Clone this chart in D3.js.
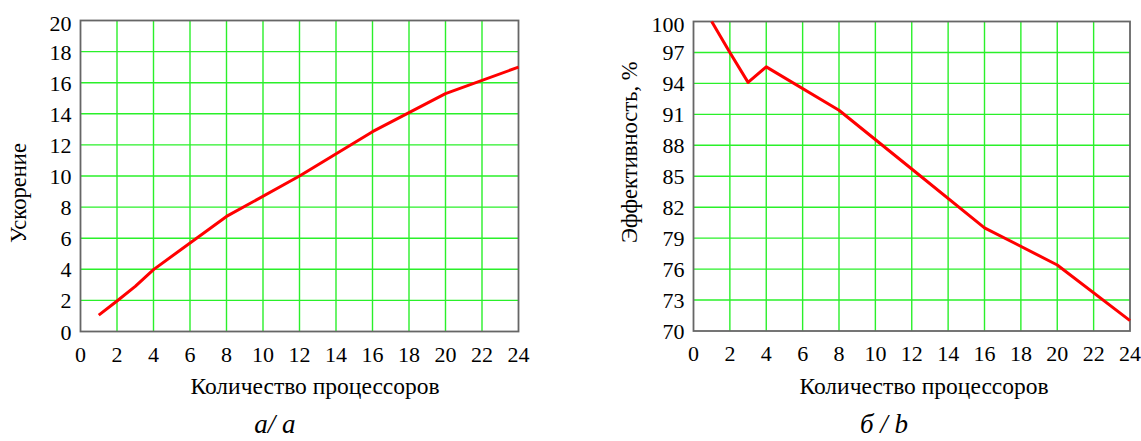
<!DOCTYPE html>
<html>
<head>
<meta charset="utf-8">
<script src="https://cdn.jsdelivr.net/npm/d3@7"></script>
<style>
  html, body { margin: 0; padding: 0; background: #fff; }
  svg { display: block; }
  text { font-family: "Liberation Serif", "Times New Roman", serif; fill: #000; }
</style>
</head>
<body>
<svg id="chart" width="1141" height="441"></svg>
<script>
// Number of processors
const processors = [1, 2, 3, 4, 8, 12, 16, 20, 24];
// Speedup (panel a)
const speedup = [1.05, 1.96, 2.9, 3.98, 7.4, 10.0, 12.85, 15.3, 17.0];
// Efficiency, % (panel b)
const efficiency = [100, 97.0, 94.1, 95.6, 91.4, 85.7, 80.0, 76.4, 71.0];

const xTicks = [0, 2, 4, 6, 8, 10, 12, 14, 16, 18, 20, 22, 24];
const speedupTicks = [0, 2, 4, 6, 8, 10, 12, 14, 16, 18, 20];
const efficiencyTicks = [70, 73, 76, 79, 82, 85, 88, 91, 94, 97, 100];

const xTitle = "Количество процессоров";

const svg = d3.select("#chart");

function panel(opts) {
  const { left, right, top, bottom, yDomain, yTicks, values, yTitle, yTitleX, caption, captionX, xTitleX } = opts;
  const g = svg.append("g");

  const x = d3.scaleLinear().domain([0, 24]).range([left, right]);
  const y = d3.scaleLinear().domain(yDomain).range([bottom, top]);

  // grid
  g.append("g").selectAll("line")
    .data(xTicks.slice(1, -1))
    .join("line")
    .attr("x1", d => x(d)).attr("x2", d => x(d))
    .attr("y1", top).attr("y2", bottom)
    .attr("stroke", "#2af02a").attr("stroke-width", 1.4);
  g.append("g").selectAll("line")
    .data(yTicks.slice(1, -1))
    .join("line")
    .attr("x1", left).attr("x2", right)
    .attr("y1", d => y(d)).attr("y2", d => y(d))
    .attr("stroke", "#2af02a").attr("stroke-width", 1.4);

  // frame
  g.append("rect")
    .attr("x", left).attr("y", top)
    .attr("width", right - left).attr("height", bottom - top)
    .attr("fill", "none").attr("stroke", "#666").attr("stroke-width", 1.8);

  // data line
  const line = d3.line().x(d => x(d[0])).y(d => y(d[1]));
  g.append("path")
    .datum(processors.map((p, i) => [p, values[i]]))
    .attr("d", line)
    .attr("fill", "none")
    .attr("stroke", "#ff0000")
    .attr("stroke-width", 3)
    .attr("stroke-linejoin", "round");

  // y tick labels
  g.append("g").selectAll("text")
    .data(yTicks)
    .join("text")
    .attr("x", left - 9)
    .attr("y", (d, i) => y(d) + (i === yTicks.length - 1 ? 10 : 8))
    .attr("text-anchor", "end")
    .attr("font-size", 22)
    .text(d => d);

  // x tick labels
  g.append("g").selectAll("text")
    .data(xTicks)
    .join("text")
    .attr("x", d => x(d))
    .attr("y", bottom + 30)
    .attr("text-anchor", "middle")
    .attr("font-size", 22)
    .text(d => d);

  // axis titles
  g.append("text")
    .attr("x", xTitleX)
    .attr("y", 394)
    .attr("text-anchor", "middle")
    .attr("font-size", 23.5)
    .text(xTitle);

  g.append("text")
    .attr("transform", `translate(${yTitleX},243) rotate(-90)`)
    .attr("text-anchor", "start")
    .attr("font-size", 22.6)
    .text(yTitle);

  // caption
  g.append("text")
    .attr("x", captionX)
    .attr("y", 433)
    .attr("text-anchor", "middle")
    .attr("font-size", 27)
    .attr("font-style", "italic")
    .text(caption);
}

panel({
  left: 80.5, right: 518.5, top: 20.5, bottom: 331.5,
  yDomain: [0, 20], yTicks: speedupTicks, values: speedup,
  yTitle: "Ускорение", yTitleX: 26,
  caption: "а/ a", captionX: 275, xTitleX: 315
});

panel({
  left: 693.5, right: 1130, top: 21.5, bottom: 331,
  yDomain: [70, 100], yTicks: efficiencyTicks, values: efficiency,
  yTitle: "Эффективность, %", yTitleX: 637,
  caption: "б / b", captionX: 884, xTitleX: 924
});
</script>
</body>
</html>
